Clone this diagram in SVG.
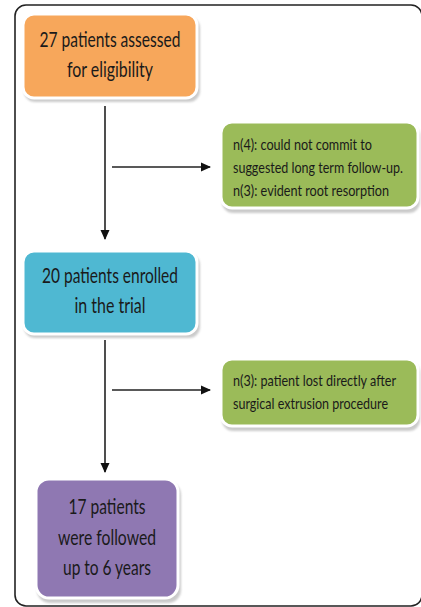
<svg xmlns="http://www.w3.org/2000/svg" width="421" height="607" viewBox="0 0 421 607">
<style>
.box{stroke:#ffffff;stroke-width:3}
.sh{fill:#a8a8a8;opacity:0.6}
.t{font-family:Lato,"Open Sans","Liberation Sans",sans-serif;fill:#1a1a1a;font-size:21px;text-anchor:middle}
.s{font-family:Lato,"Open Sans","Liberation Sans",sans-serif;fill:#1a1a1a;font-size:13px}
.ln{stroke:#222;stroke-width:1.6;fill:none}
</style>
<defs>
<marker id="ah" markerWidth="10" markerHeight="10" refX="9" refY="5" orient="auto" markerUnits="userSpaceOnUse">
<path d="M0,0.5 L10,5 L0,9.5 Z" fill="#111"/>
</marker>
<filter id="blur" x="-10%" y="-10%" width="120%" height="130%"><feGaussianBlur stdDeviation="1.2"/></filter>
</defs>
<rect x="15" y="5" width="407" height="601" rx="11" fill="none" stroke="#222" stroke-width="1.6"/>
<g id="connectors">
<line class="ln" x1="105" y1="106" x2="105" y2="239" marker-end="url(#ah)"/>
<line class="ln" x1="112" y1="167" x2="210" y2="167" marker-end="url(#ah)"/>
<line class="ln" x1="105" y1="340" x2="105" y2="472" marker-end="url(#ah)"/>
<line class="ln" x1="112" y1="390" x2="210" y2="390" marker-end="url(#ah)"/>
</g>
<g id="node-assessed">
<rect class="sh" x="24" y="17" width="176" height="85" rx="11" filter="url(#blur)"/>
<rect class="box" x="23" y="14" width="174" height="84" rx="11" fill="#F7A75B"/>
<text class="t" x="110" y="46.5" textLength="141" lengthAdjust="spacingAndGlyphs">27 patients assessed</text>
<text class="t" x="110" y="76.5" textLength="86" lengthAdjust="spacingAndGlyphs">for eligibility</text>
</g>
<g id="node-excluded1">
<rect class="sh" x="222" y="125" width="198" height="88" rx="11" filter="url(#blur)"/>
<rect class="box" x="221" y="122" width="197" height="86" rx="11" fill="#9BBB59"/>
<text class="s" transform="translate(233,150) scale(1,1.15)" textLength="139" lengthAdjust="spacingAndGlyphs">n(4): could not commit to</text>
<text class="s" transform="translate(233,173) scale(1,1.15)" textLength="170" lengthAdjust="spacingAndGlyphs">suggested long term follow-up.</text>
<text class="s" transform="translate(233,196) scale(1,1.15)" textLength="156" lengthAdjust="spacingAndGlyphs">n(3): evident root resorption</text>
</g>
<g id="node-enrolled">
<rect class="sh" x="24" y="254" width="176" height="84" rx="11" filter="url(#blur)"/>
<rect class="box" x="23" y="251" width="174" height="83" rx="11" fill="#4FB8D2"/>
<text class="t" x="110" y="283" textLength="136" lengthAdjust="spacingAndGlyphs">20 patients enrolled</text>
<text class="t" x="110" y="313" textLength="71" lengthAdjust="spacingAndGlyphs">in the trial</text>
</g>
<g id="node-excluded2">
<rect class="sh" x="222" y="362" width="198" height="69" rx="11" filter="url(#blur)"/>
<rect class="box" x="221" y="359" width="197" height="67" rx="11" fill="#9BBB59"/>
<text class="s" transform="translate(233,386) scale(1,1.15)" textLength="163" lengthAdjust="spacingAndGlyphs">n(3): patient lost directly after</text>
<text class="s" transform="translate(233,409) scale(1,1.15)" textLength="155" lengthAdjust="spacingAndGlyphs">surgical extrusion procedure</text>
</g>
<g id="node-followed">
<rect class="sh" x="37" y="482" width="144" height="121" rx="13" filter="url(#blur)"/>
<rect class="box" x="36" y="479" width="142" height="119" rx="13" fill="#8F78B2"/>
<text class="t" x="107" y="514" textLength="77" lengthAdjust="spacingAndGlyphs">17 patients</text>
<text class="t" x="107" y="545" textLength="98" lengthAdjust="spacingAndGlyphs">were followed</text>
<text class="t" x="107" y="575" textLength="88" lengthAdjust="spacingAndGlyphs">up to 6 years</text>
</g>
</svg>
